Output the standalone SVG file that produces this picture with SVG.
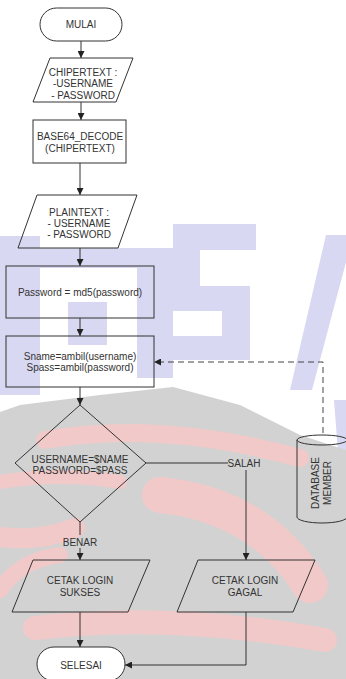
<svg xmlns="http://www.w3.org/2000/svg" width="346" height="679" viewBox="0 0 346 679">
<style>
.shape{fill:none;stroke:#333;stroke-width:1}
.t{font-family:"Liberation Sans",Arial,sans-serif;font-size:10px;fill:#333;text-anchor:middle}
.c{fill:none;stroke:#333;stroke-width:1}
.d{fill:none;stroke:#444;stroke-width:1;stroke-dasharray:6,4}
.wb{fill:#d8d8f2}
.wp{fill:none;stroke:#f2c9c9;stroke-linecap:round}
</style>
<defs>
<marker id="ah" markerWidth="7" markerHeight="7" refX="7" refY="3.5" orient="auto" markerUnits="userSpaceOnUse">
<path d="M0,0 L7,3.5 L0,7 Z" fill="#222"/>
</marker>
</defs>
<rect x="0" y="0" width="346" height="679" fill="#fff"/>
<g id="watermark">
<rect class="wb" x="0" y="236" width="40" height="159"/>
<rect class="wb" x="40" y="248" width="140" height="20"/>
<rect class="wb" x="68" y="302" width="39" height="43"/>
<rect class="wb" x="137" y="248" width="36" height="130"/>
<rect class="wb" x="176" y="224" width="80" height="26"/>
<rect class="wb" x="173" y="224" width="27" height="76"/>
<rect class="wb" x="173" y="286" width="73" height="25"/>
<rect class="wb" x="222" y="286" width="28" height="74"/>
<rect class="wb" x="173" y="336" width="77" height="24"/>
<polygon class="wb" points="326,235 346,235 346,262 312,390 290,390"/>
<polygon class="wb" points="334,400 346,400 346,452 338,452"/>
<polygon fill="#d2d2d2" points="0,412 20,405 100,395 173,387 240,405 300,435 346,450 346,679 0,679"/>
<path class="wp" stroke-width="18" d="M45 440 Q160 420 300 458"/>
<path class="wp" stroke-width="14" d="M0 482 Q60 472 120 482"/>
<path class="wp" stroke-width="36" d="M160 495 Q260 505 310 585"/>
<path class="wp" stroke-width="20" d="M0 537 Q40 542 75 528"/>
<path class="wp" stroke-width="24" d="M35 628 Q170 612 325 640"/>
<path class="wp" stroke-width="16" d="M0 590 Q20 560 60 555"/>
</g>
<g id="connectors">
<line class="c" x1="81" y1="41" x2="81" y2="58" marker-end="url(#ah)"/>
<line class="c" x1="81" y1="102" x2="81" y2="120" marker-end="url(#ah)"/>
<line class="c" x1="80" y1="163" x2="80" y2="195" marker-end="url(#ah)"/>
<line class="c" x1="80" y1="248" x2="80" y2="266" marker-end="url(#ah)"/>
<line class="c" x1="80" y1="318" x2="80" y2="336" marker-end="url(#ah)"/>
<line class="c" x1="80" y1="387" x2="80" y2="405" marker-end="url(#ah)"/>
<line class="c" x1="80" y1="522" x2="80" y2="535"/>
<line class="c" x1="80" y1="548" x2="80" y2="560" marker-end="url(#ah)"/>
<text class="t" x="80" y="545.5">BENAR</text>
<line class="c" x1="146" y1="463" x2="228" y2="463"/>
<text class="t" x="244" y="466.5">SALAH</text>
<line class="c" x1="246" y1="470" x2="246" y2="560" marker-end="url(#ah)"/>
<line class="c" x1="80" y1="612" x2="80" y2="647" marker-end="url(#ah)"/>
<polyline class="c" points="246,612 246,665 125,665" marker-end="url(#ah)"/>
<polyline class="d" points="323,433 323,362 154,362" marker-end="url(#ah)"/>
</g>
<g id="mulai">
<rect class="shape" x="40" y="8" width="82" height="33" rx="16.5" style="fill:#fff"/>
<text class="t" x="81" y="28">MULAI</text>
</g>
<g id="chipertext">
<polygon class="shape" points="50,58 133,58 116,102 33,102"/>
<text class="t" x="83" y="75.5">CHIPERTEXT :</text>
<text class="t" x="83" y="87">-USERNAME</text>
<text class="t" x="83" y="98.5">- PASSWORD</text>
</g>
<g id="base64">
<rect class="shape" x="33" y="120" width="93" height="43"/>
<text class="t" x="80" y="139.5">BASE64_DECODE</text>
<text class="t" x="80" y="151.5">(CHIPERTEXT)</text>
</g>
<g id="plaintext">
<polygon class="shape" points="37,195 137,195 118,248 18,248"/>
<text class="t" x="79" y="215.5">PLAINTEXT :</text>
<text class="t" x="79" y="226.5">- USERNAME</text>
<text class="t" x="79" y="237.5">- PASSWORD</text>
</g>
<g id="md5">
<rect class="shape" x="6" y="266" width="148" height="52"/>
<text class="t" x="80" y="296">Password = md5(password)</text>
</g>
<g id="ambil">
<rect class="shape" x="6" y="336" width="148" height="51"/>
<text class="t" x="80" y="359.5">Sname=ambil(username)</text>
<text class="t" x="80" y="370.5">Spass=ambil(password)</text>
</g>
<g id="decision">
<polygon class="shape" points="80,405 146,463 80,522 15,463"/>
<text class="t" x="80" y="462.5">USERNAME=$NAME</text>
<text class="t" x="80" y="473.5">PASSWORD=$PASS</text>
</g>
<g id="database">
<path class="shape" d="M297,440 L297,517 A25,6 0 0 0 347,517 L347,440"/>
<ellipse class="shape" cx="322" cy="440" rx="25" ry="5"/>
<g transform="translate(321,483) rotate(-90)">
<text class="t" x="0" y="-2.5">DATABASE</text>
<text class="t" x="0" y="9.5">MEMBER</text>
</g>
</g>
<g id="sukses">
<polygon class="shape" points="33,560 150,560 128,612 12,612"/>
<text class="t" x="80" y="583.5">CETAK LOGIN</text>
<text class="t" x="80" y="595.5">SUKSES</text>
</g>
<g id="gagal">
<polygon class="shape" points="198,560 315,560 293,612 177,612"/>
<text class="t" x="245" y="583.5">CETAK LOGIN</text>
<text class="t" x="245" y="595.5">GAGAL</text>
</g>
<g id="selesai">
<rect class="shape" x="37" y="647" width="88" height="34" rx="17" style="fill:#fff"/>
<text class="t" x="81" y="668.5">SELESAI</text>
</g>
</svg>
